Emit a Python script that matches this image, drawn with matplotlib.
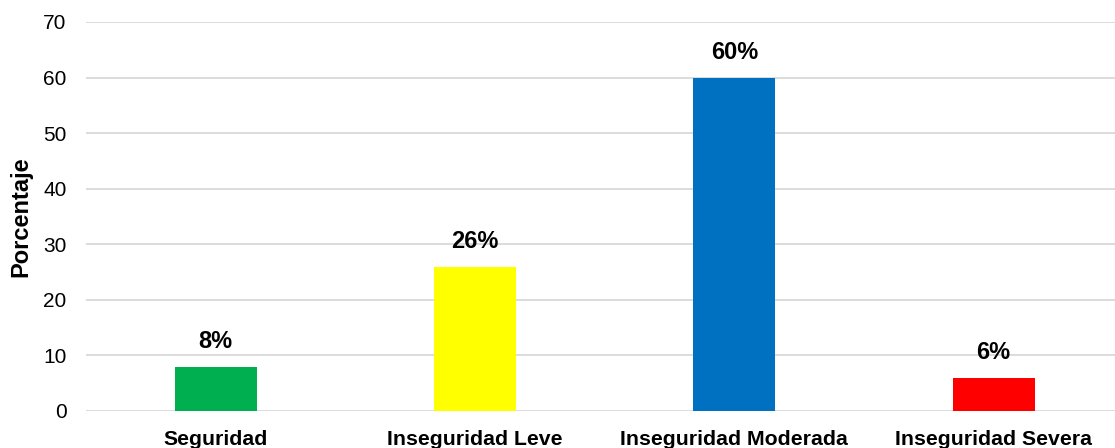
import matplotlib.pyplot as plt

plt.rcParams['font.family'] = ['Liberation Sans', 'DejaVu Sans']

categorias = ['Seguridad', 'Inseguridad Leve', 'Inseguridad Moderada', 'Inseguridad Severa']
porcentajes = [8, 26, 60, 6]
colores = ['#00B050', '#FFFF00', '#0070C0', '#FF0000']
ticks_y = [0, 10, 20, 30, 40, 50, 60, 70]

fig = plt.figure(figsize=(11.15, 4.48), dpi=100)
ax = fig.add_axes([0.0771, 0.0826, 0.9229, 0.8683])

x = range(len(categorias))
barras = ax.bar(x, porcentajes, width=0.316, color=colores, zorder=3)

for b, v in zip(barras, porcentajes):
    ax.annotate(f'{v}%', (b.get_x() + b.get_width() / 2, v),
                xytext=(0, 10), textcoords='offset points',
                ha='center', va='bottom', fontsize=17, fontweight='bold')

ax.set_xlim(-0.5, 3.468)
ax.set_ylim(0, 70)
ax.set_yticks(ticks_y)
ax.set_xticks(list(x))
ax.set_xticklabels(categorias, fontsize=15.3, fontweight='bold')
ax.tick_params(axis='y', length=0, pad=14, labelsize=15)
ax.tick_params(axis='x', length=0, pad=14)
ax.grid(axis='y', color='#d9d9d9', linewidth=1.3, zorder=0)
ax.set_axisbelow(True)
for s in ax.spines.values():
    s.set_visible(False)

ax.set_ylabel('Porcentaje', fontsize=17, fontweight='bold')
ax.yaxis.set_label_coords(-0.0525, 0.5)

fig.savefig('out.png', dpi=100)
